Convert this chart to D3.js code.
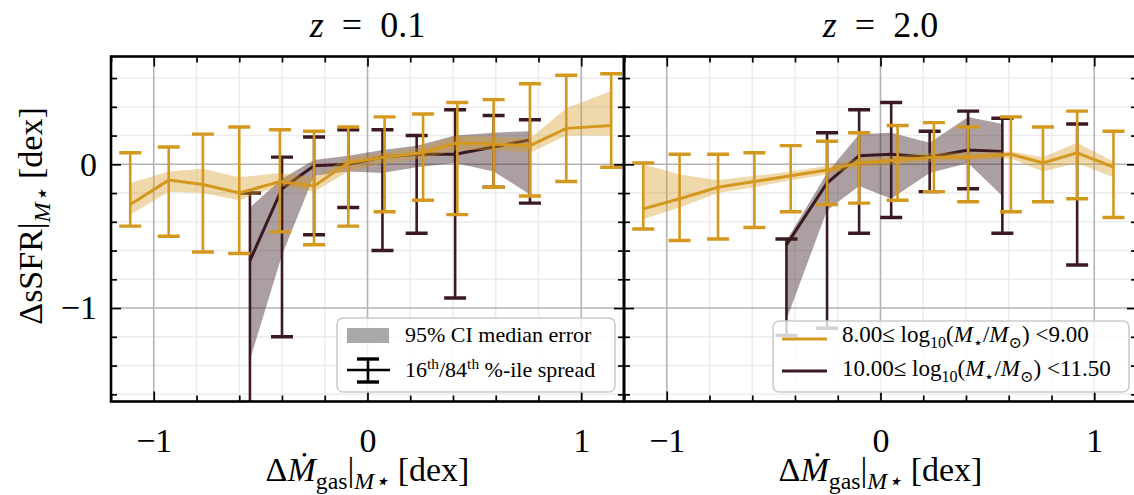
<!DOCTYPE html>
<html lang="en">
<head>
<meta charset="utf-8">
<title>sSFR offset vs gas accretion offset</title>
<script src="https://d3js.org/d3.v7.min.js"></script>
<style>
  body { margin: 0; background: #fff; }
  .minor-grid line { stroke: #ececec; stroke-width: 1.5; }
  .major-grid line { stroke: #b3b3b3; stroke-width: 1.6; }
  .tick line { stroke: #000; stroke-width: 1.7; }
  .tick text { font-size: 34px; fill: #000; }
</style>
</head>
<body>
<script>
// tick labels
const xTicks = [-1, 0, 1];
const yTicks = [-1, 0];
const titles = ["0.1", "2.0"];

// z = 0.1, 8.00 <= log M < 9.00 (orange)
const lowX_z01 = [-1.11, -0.93, -0.77, -0.60, -0.41, -0.25, -0.09, 0.08, 0.26, 0.42, 0.59, 0.76, 0.93, 1.14];
const lowMed_z01 = [-0.28, -0.11, -0.14, -0.20, -0.12, -0.15, 0.01, 0.05, 0.08, 0.15, 0.14, 0.13, 0.25, 0.27];
const lowP16_z01 = [-0.43, -0.50, -0.61, -0.62, -0.47, -0.56, -0.43, -0.33, -0.25, -0.35, -0.16, -0.22, -0.12, -0.02];
const lowP84_z01 = [0.08, 0.12, 0.21, 0.26, 0.24, 0.23, 0.26, 0.33, 0.35, 0.43, 0.45, 0.56, 0.62, 0.63];
const lowCiLo_z01 = [-0.35, -0.19, -0.20, -0.25, -0.15, -0.19, -0.05, 0.01, 0.04, 0.10, 0.10, 0.08, 0.20, 0.20];
const lowCiHi_z01 = [-0.13, -0.05, -0.03, -0.09, -0.06, -0.09, 0.05, 0.08, 0.12, 0.20, 0.19, 0.18, 0.39, 0.51];

// z = 0.1, 10.00 <= log M < 11.50 (dark)
const highX_z01 = [-0.55, -0.40, -0.25, -0.09, 0.07, 0.23, 0.41, 0.59, 0.76];
const highMed_z01 = [-0.67, -0.17, -0.01, 0.00, 0.05, 0.07, 0.07, 0.12, 0.17];
const highP16_z01 = [-1.90, -1.20, -0.49, -0.30, -0.60, -0.48, -0.93, -0.16, -0.27];
const highP84_z01 = [-0.20, 0.05, 0.19, 0.24, 0.24, 0.20, 0.38, 0.34, 0.31];
const highCiLo_z01 = [-1.36, -0.63, -0.08, -0.05, -0.06, -0.02, 0.01, -0.05, -0.21];
const highCiHi_z01 = [-0.30, -0.10, 0.03, 0.06, 0.10, 0.13, 0.20, 0.22, 0.23];

// z = 2.0, orange
const lowX_z20 = [-1.11, -0.94, -0.76, -0.59, -0.42, -0.25, -0.10, 0.08, 0.25, 0.41, 0.61, 0.76, 0.92, 1.09];
const lowMed_z20 = [-0.31, -0.24, -0.16, -0.12, -0.08, -0.04, 0.01, 0.03, 0.05, 0.05, 0.07, 0.01, 0.08, -0.02];
const lowP16_z20 = [-0.45, -0.53, -0.52, -0.44, -0.33, -0.28, -0.27, -0.25, -0.19, -0.26, -0.33, -0.26, -0.24, -0.37];
const lowP84_z20 = [0.01, 0.07, 0.07, 0.08, 0.13, 0.16, 0.22, 0.27, 0.29, 0.26, 0.33, 0.26, 0.37, 0.23];
const lowCiLo_z20 = [-0.38, -0.30, -0.20, -0.16, -0.11, -0.07, -0.02, 0.00, 0.02, 0.03, 0.04, -0.05, 0.01, -0.09];
const lowCiHi_z20 = [0.00, -0.07, -0.11, -0.08, -0.05, -0.01, 0.04, 0.06, 0.08, 0.08, 0.09, 0.05, 0.15, 0.02];

// z = 2.0, dark (last bin has no median / CI)
const highX_z20 = [-0.44, -0.25, -0.10, 0.05, 0.23, 0.41, 0.57, 0.92];
const highMed_z20 = [-0.56, -0.13, 0.06, 0.07, 0.05, 0.10, 0.09, null];
const highP16_z20 = [-1.19, -1.14, -0.48, -0.37, -0.19, -0.17, -0.48, -0.70];
const highP84_z20 = [-0.52, 0.22, 0.38, 0.43, 0.23, 0.37, 0.32, 0.28];
const highCiLo_z20 = [-1.08, -0.32, -0.15, -0.24, -0.06, 0.01, -0.22, null];
const highCiHi_z20 = [-0.53, -0.06, 0.21, 0.22, 0.15, 0.33, 0.28, null];

const orange = "#d5981f";
const dark = "#3a1a20";
const serif = "'Liberation Serif', 'Times New Roman', 'DejaVu Serif', serif";

const width = 1134, height = 495;
const yTop = 56.5, yBottom = 401.5;

const svg = d3.select("body").append("svg")
    .attr("width", width).attr("height", height);

const y = d3.scaleLinear().domain([-1.65, 0.75]).range([yBottom, yTop]);
const xScales = [
    d3.scaleLinear().domain([-1.2, 1.2]).range([111, 624]),
    d3.scaleLinear().domain([-1.2, 1.2]).range([624, 1137])
];

const xMinor = d3.range(-12, 13, 2).map(d => d / 10).filter(d => !xTicks.includes(d));
const yMinor = d3.range(-16, 8, 2).map(d => d / 10).filter(d => !yTicks.includes(d));

// text with sub/superscripts, works rotated too
function rich(sel, parts, size) {
    let shift = 0;
    parts.forEach(p => {
        const target = p.sub ? size * 0.24 : p.sup ? -size * 0.38 : 0;
        sel.append("tspan")
            .attr("dy", target - shift)
            .attr("font-size", (p.sub || p.sup) ? size * 0.7 : size)
            .attr("font-style", p.it ? "italic" : null)
            .text(p.t);
        shift = target;
    });
}

function panel(i, series) {
    const x = xScales[i];
    const [x0, x1] = x.range();
    const g = svg.append("g");

    svg.append("clipPath").attr("id", "clip" + i)
        .append("rect").attr("x", x0).attr("y", yTop).attr("width", x1 - x0).attr("height", yBottom - yTop);

    const plot = g.append("g").attr("clip-path", `url(#clip${i})`);

    const minor = plot.append("g").attr("class", "minor-grid");
    minor.selectAll("line.v").data(xMinor).join("line").attr("class", "v")
        .attr("x1", d => x(d)).attr("x2", d => x(d)).attr("y1", yTop).attr("y2", yBottom);
    minor.selectAll("line.h").data(yMinor).join("line").attr("class", "h")
        .attr("x1", x0).attr("x2", x1).attr("y1", d => y(d)).attr("y2", d => y(d));

    const major = plot.append("g").attr("class", "major-grid");
    major.selectAll("line.v").data(xTicks).join("line").attr("class", "v")
        .attr("x1", d => x(d)).attr("x2", d => x(d)).attr("y1", yTop).attr("y2", yBottom);
    major.selectAll("line.h").data(yTicks).join("line").attr("class", "h")
        .attr("x1", x0).attr("x2", x1).attr("y1", d => y(d)).attr("y2", d => y(d));

    series.forEach(s => {
        const idx = d3.range(s.x.length);
        const area = d3.area()
            .defined(j => s.ciLo[j] != null)
            .x(j => x(s.x[j])).y0(j => y(s.ciLo[j])).y1(j => y(s.ciHi[j]));
        plot.append("path").datum(idx).attr("d", area)
            .attr("fill", s.color).attr("fill-opacity", s.bandOpacity).attr("stroke", "none");

        const bars = plot.append("g").attr("stroke", s.color);
        bars.selectAll("line.stem").data(idx).join("line").attr("class", "stem")
            .attr("x1", j => x(s.x[j])).attr("x2", j => x(s.x[j]))
            .attr("y1", j => y(s.p16[j])).attr("y2", j => y(s.p84[j]))
            .attr("stroke-width", 2.6);
        const caps = idx.flatMap(j => [[j, s.p16[j]], [j, s.p84[j]]]);
        bars.selectAll("line.cap").data(caps).join("line").attr("class", "cap")
            .attr("x1", d => x(s.x[d[0]]) - 11).attr("x2", d => x(s.x[d[0]]) + 11)
            .attr("y1", d => y(d[1])).attr("y2", d => y(d[1]))
            .attr("stroke-width", 3.4);

        const line = d3.line()
            .defined(j => s.med[j] != null)
            .x(j => x(s.x[j])).y(j => y(s.med[j]));
        plot.append("path").datum(idx).attr("d", line)
            .attr("fill", "none").attr("stroke", s.color).attr("stroke-width", 3);
    });

    // frame
    g.append("rect").attr("x", x0).attr("y", yTop).attr("width", x1 - x0).attr("height", yBottom - yTop)
        .attr("fill", "none").attr("stroke", "#000").attr("stroke-width", 2.6);

    const axes = [
        [d3.axisBottom(x), `translate(0,${yBottom})`, xTicks, xMinor, true, 26],
        [d3.axisTop(x), `translate(0,${yTop})`, xTicks, xMinor, false, 10],
        [d3.axisLeft(y), `translate(${x0},0)`, yTicks, yMinor, i === 0, 14],
        [d3.axisRight(y), `translate(${x1},0)`, yTicks, yMinor, false, 10]
    ];
    axes.forEach(([ax, tr, majors, minors, labels, pad]) => {
        const a = g.append("g").attr("transform", tr)
            .call(ax.tickValues(majors).tickSize(-10).tickSizeOuter(0).tickPadding(pad)
                .tickFormat(labels ? d3.format("d") : ""));
        a.select(".domain").remove();
        const m = g.append("g").attr("transform", tr)
            .call(ax.tickValues(minors).tickSize(-6).tickSizeOuter(0).tickFormat(""));
        m.select(".domain").remove();
    });

    const cx = (x0 + x1) / 2;
    const t = svg.append("text").attr("x", cx).attr("y", 37).attr("text-anchor", "middle")
        .attr("font-size", 36);
    t.append("tspan").attr("font-style", "italic").text("z");
    t.append("tspan").text("\u2002=\u2002" + titles[i]);

    const xl = svg.append("text").attr("x", cx).attr("y", 481).attr("text-anchor", "middle");
    rich(xl, [{t: "\u0394"}, {t: "\u1E40", it: true}, {t: "gas", sub: true}, {t: "|"},
        {t: "M\u22C6", sub: true, it: true}, {t: " [dex]"}], 34);
}

panel(0, [
    {x: highX_z01, med: highMed_z01, p16: highP16_z01, p84: highP84_z01, ciLo: highCiLo_z01, ciHi: highCiHi_z01, color: dark, bandOpacity: 0.42},
    {x: lowX_z01, med: lowMed_z01, p16: lowP16_z01, p84: lowP84_z01, ciLo: lowCiLo_z01, ciHi: lowCiHi_z01, color: orange, bandOpacity: 0.38}
]);
panel(1, [
    {x: highX_z20, med: highMed_z20, p16: highP16_z20, p84: highP84_z20, ciLo: highCiLo_z20, ciHi: highCiHi_z20, color: dark, bandOpacity: 0.42},
    {x: lowX_z20, med: lowMed_z20, p16: lowP16_z20, p84: lowP84_z20, ciLo: lowCiLo_z20, ciHi: lowCiHi_z20, color: orange, bandOpacity: 0.38}
]);

// y label
const yl = svg.append("text").attr("transform", "translate(42,216) rotate(-90)").attr("text-anchor", "middle");
rich(yl, [{t: "\u0394sSFR|"}, {t: "M\u22C6", sub: true, it: true}, {t: " [dex]"}], 34);

// legend, left panel
const lg1 = svg.append("g");
lg1.append("rect").attr("x", 337).attr("y", 318).attr("width", 278).attr("height", 74).attr("rx", 6)
    .attr("fill", "#fff").attr("fill-opacity", 0.8).attr("stroke", "#cccccc").attr("stroke-width", 1.6);
lg1.append("rect").attr("x", 347).attr("y", 328).attr("width", 42).attr("height", 15).attr("fill", "#a9a9a9");
lg1.append("line").attr("x1", 347).attr("x2", 390).attr("y1", 370).attr("y2", 370).attr("stroke", "#000").attr("stroke-width", 2.6);
lg1.append("line").attr("x1", 368).attr("x2", 368).attr("y1", 359).attr("y2", 382).attr("stroke", "#000").attr("stroke-width", 2.6);
[359, 382].forEach(v => lg1.append("line").attr("x1", 357).attr("x2", 379).attr("y1", v).attr("y2", v)
    .attr("stroke", "#000").attr("stroke-width", 3.4));
lg1.append("text").attr("x", 405).attr("y", 342).attr("font-size", 22).text("95% CI median error");
rich(lg1.append("text").attr("x", 405).attr("y", 377),
    [{t: "16"}, {t: "th", sup: true}, {t: "/84"}, {t: "th", sup: true}, {t: " %-ile spread"}], 22);

// legend, right panel
const lg2 = svg.append("g");
lg2.append("rect").attr("x", 773).attr("y", 321).attr("width", 356).attr("height", 71).attr("rx", 6)
    .attr("fill", "#fff").attr("fill-opacity", 0.8).attr("stroke", "#cccccc").attr("stroke-width", 1.6);
const massLabels = [["8.00", "9.00", orange, 339, 342], ["10.00", "11.50", dark, 371, 376]];
massLabels.forEach(([lo, hi, c, ly, ty]) => {
    lg2.append("line").attr("x1", 782).attr("x2", 827).attr("y1", ly).attr("y2", ly)
        .attr("stroke", c).attr("stroke-width", 3);
    rich(lg2.append("text").attr("x", 842).attr("y", ty), [
        {t: lo + "\u2264 log"}, {t: "10", sub: true}, {t: "("}, {t: "M", it: true}, {t: "\u22C6", sub: true},
        {t: "/"}, {t: "M", it: true}, {t: "\u2299", sub: true}, {t: ") <" + hi}], 23);
});

// every text in the serif face, axis groups included
svg.selectAll("g").attr("font-family", null);
svg.selectAll("text").attr("font-family", serif).attr("fill", "#000");
</script>
</body>
</html>
